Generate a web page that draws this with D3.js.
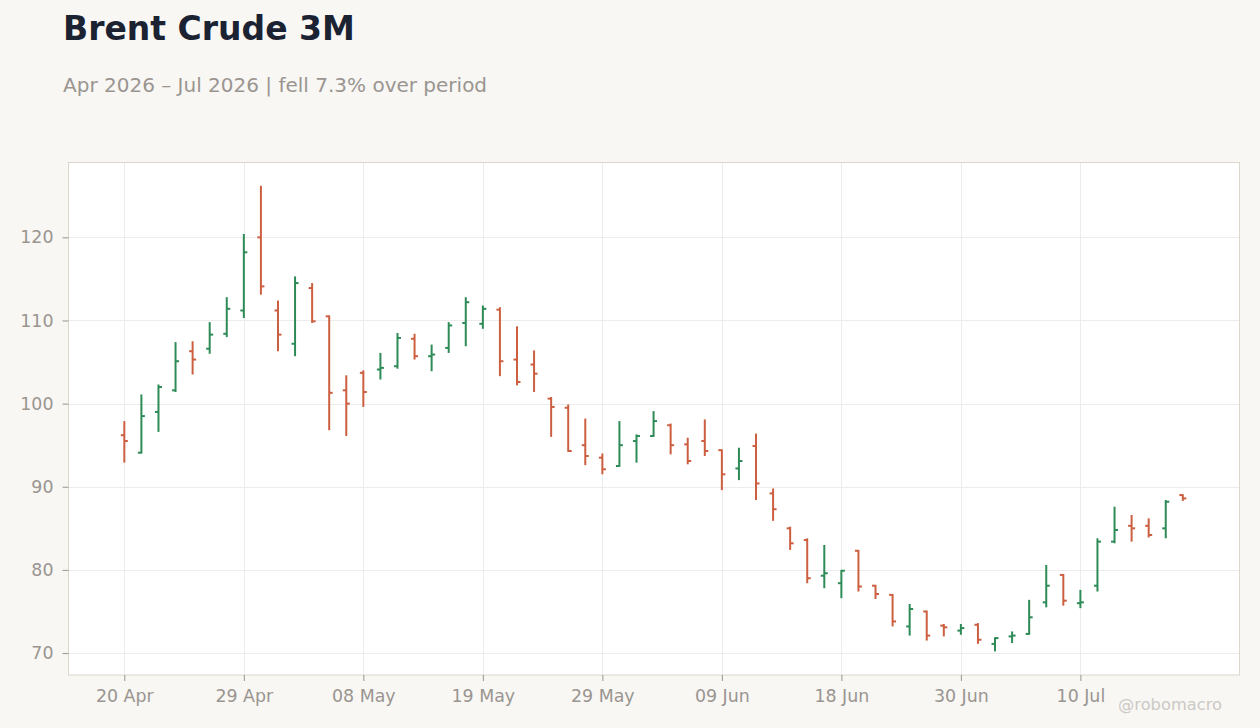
<!DOCTYPE html>
<html>
<head>
<meta charset="utf-8">
<script src="https://cdn.jsdelivr.net/npm/d3@7"></script>
<style>
	body { margin: 0; background: #f8f7f4; }
	svg { display: block; font-family: "DejaVu Sans", sans-serif; }
</style>
</head>
<body>
<svg id="svg" width="1260" height="728"></svg>
<script>
// trading days (weekends + US holidays skipped)
var dates = [
	"2026-04-20","2026-04-21","2026-04-22","2026-04-23","2026-04-24","2026-04-27","2026-04-28","2026-04-29","2026-04-30",
	"2026-05-01","2026-05-04","2026-05-05","2026-05-06","2026-05-07","2026-05-08","2026-05-11","2026-05-12","2026-05-13",
	"2026-05-14","2026-05-15","2026-05-18","2026-05-19","2026-05-20","2026-05-21","2026-05-22","2026-05-26","2026-05-27",
	"2026-05-28","2026-05-29","2026-06-01","2026-06-02","2026-06-03","2026-06-04","2026-06-05","2026-06-08","2026-06-09",
	"2026-06-10","2026-06-11","2026-06-12","2026-06-15","2026-06-16","2026-06-17","2026-06-18","2026-06-22","2026-06-23",
	"2026-06-24","2026-06-25","2026-06-26","2026-06-29","2026-06-30","2026-07-01","2026-07-02","2026-07-06","2026-07-07",
	"2026-07-08","2026-07-09","2026-07-10","2026-07-13","2026-07-14","2026-07-15","2026-07-16","2026-07-17","2026-07-20"
];
var opens = [96.2,94.1,99.0,101.6,106.3,106.6,108.4,111.2,120.0,111.2,107.2,113.9,110.5,101.6,103.7,104.1,104.5,107.8,
	105.7,106.7,109.7,109.6,111.3,105.3,104.7,100.6,99.5,95.0,93.5,92.5,95.5,96.1,97.4,95.1,95.5,94.4,
	92.2,94.9,89.2,85.0,83.6,79.3,78.4,82.3,78.1,77.0,73.2,75.0,73.3,72.7,73.4,71.1,72.0,72.3,
	76.1,79.4,76.0,78.1,83.4,85.3,85.3,85.0,89.0];
var highs = [97.9,101.1,102.3,107.4,107.5,109.8,112.8,120.4,126.2,112.4,115.3,114.5,110.6,103.4,104.0,106.1,108.5,108.4,
	107.1,109.8,112.8,111.8,111.6,109.3,106.4,100.8,99.9,98.2,94.0,97.9,96.3,99.1,97.6,95.9,98.1,94.5,
	94.7,96.4,89.8,85.2,83.8,83.0,80.0,82.4,78.2,77.1,75.9,75.1,73.5,73.5,73.6,71.9,72.6,76.4,
	80.6,79.5,77.6,83.8,87.6,86.6,86.2,88.4,89.1];
var lows = [92.9,94.0,96.6,101.4,103.5,106.0,108.0,110.3,113.1,106.3,105.7,109.7,96.8,96.1,99.6,102.9,104.2,105.3,
	103.9,106.1,106.9,109.0,103.3,102.2,101.4,96.0,94.2,92.6,91.5,92.4,92.9,96.0,93.9,92.7,93.7,89.6,
	90.8,88.4,85.9,82.4,78.4,77.8,76.6,77.4,76.5,73.2,72.1,71.5,72.0,72.2,71.1,70.2,71.2,72.2,
	75.5,75.7,75.4,77.4,83.2,83.4,83.9,83.8,88.3];
var closes = [95.5,98.5,102.0,105.1,105.3,108.3,111.4,118.2,114.1,108.3,114.5,109.9,101.3,100.0,101.4,104.3,107.9,105.7,
	105.9,109.4,112.2,111.4,105.1,102.6,103.6,99.6,94.3,93.7,92.1,95.0,96.1,97.9,95.0,93.1,94.3,91.5,
	93.1,90.4,87.3,83.2,79.0,79.6,79.9,78.0,77.1,73.8,75.3,72.1,73.1,73.0,71.6,71.8,72.1,74.3,
	78.1,76.3,76.1,83.4,84.8,85.0,84.2,88.2,88.6];
var yTicks = [70, 80, 90, 100, 110, 120];
var xTickEvery = 7;

var upColor = "#2e8b57";
var downColor = "#cc5f40";

var width = 1260;
var height = 728;
var plot = {left: 68.5, top: 162.5, right: 1239.5, bottom: 675};
var tickLen = 3.5;

draw();

function draw() {
	"use strict"

	var parse = d3.timeParse("%Y-%m-%d");
	var fmt = d3.timeFormat("%d %b");

	var data = dates.map(function(d, i) {
		return {date: parse(d), i: i, o: opens[i], h: highs[i], l: lows[i], c: closes[i]};
	});

	var svg = d3.select("#svg");

	svg.append("rect")
		.attr("width", width)
		.attr("height", height)
		.attr("fill", "#f8f7f4");

	// title + subtitle
	svg.append("text")
		.attr("x", 63)
		.attr("y", 40)
		.attr("font-size", 33)
		.attr("font-weight", "bold")
		.attr("fill", "#1b2333")
		.text("Brent Crude 3M");
	svg.append("text")
		.attr("x", 63)
		.attr("y", 92)
		.attr("font-size", 20)
		.attr("fill", "#9a9590")
		.text("Apr 2026 \u2013 Jul 2026 | fell 7.3% over period");

	// scales
	var x = d3.scaleLinear()
		.domain([-3.27, data.length - 1 + 3.32])
		.range([plot.left, plot.right]);
	var y = d3.scaleLinear()
		.domain([67.36, 129.0])
		.range([plot.bottom, plot.top]);

	var xTicks = data.filter(function(d) { return d.i % xTickEvery == 0; });

	// plot background
	svg.append("rect")
		.attr("x", plot.left)
		.attr("y", plot.top)
		.attr("width", plot.right - plot.left)
		.attr("height", plot.bottom - plot.top)
		.attr("fill", "#ffffff");

	// grid
	var grid = svg.append("g").attr("id", "grid");
	grid.selectAll(".vgrid").data(xTicks).enter()
		.append("line")
		.attr("class", "vgrid")
		.attr("x1", function(d) { return Math.round(x(d.i)) + 0.5; })
		.attr("x2", function(d) { return Math.round(x(d.i)) + 0.5; })
		.attr("y1", plot.top)
		.attr("y2", plot.bottom)
		.attr("stroke", "#ececec")
		.attr("stroke-width", 1);
	grid.selectAll(".hgrid").data(yTicks).enter()
		.append("line")
		.attr("class", "hgrid")
		.attr("x1", plot.left)
		.attr("x2", plot.right)
		.attr("y1", function(d) { return Math.round(y(d)) + 0.5; })
		.attr("y2", function(d) { return Math.round(y(d)) + 0.5; })
		.attr("stroke", "#ececec")
		.attr("stroke-width", 1);

	// frame
	svg.append("rect")
		.attr("x", plot.left)
		.attr("y", plot.top)
		.attr("width", plot.right - plot.left)
		.attr("height", plot.bottom - plot.top)
		.attr("fill", "none")
		.attr("stroke", "#ddd6cd")
		.attr("stroke-width", 1);

	// axes
	var xAxis = svg.append("g")
		.attr("transform", "translate(0," + plot.bottom + ")")
		.call(d3.axisBottom(x)
			.tickValues(xTicks.map(function(d) { return d.i; }))
			.tickFormat(function(i) { return fmt(data[i].date); })
			.tickSize(6)
			.tickPadding(9));
	var yAxis = svg.append("g")
		.attr("transform", "translate(" + plot.left + ",0)")
		.call(d3.axisLeft(y)
			.tickValues(yTicks)
			.tickSize(6)
			.tickPadding(9));
	[xAxis, yAxis].forEach(function(ax) {
		ax.select(".domain").remove();
		ax.selectAll(".tick line").attr("stroke", "#9a9590");
		ax.selectAll(".tick text")
			.attr("fill", "#9a9590")
			.attr("font-size", 17.4)
			.attr("font-family", "DejaVu Sans, sans-serif");
	});

	// OHLC bars
	var bars = svg.append("g").attr("id", "bars")
		.selectAll(".bar").data(data).enter()
		.append("g")
		.attr("class", "bar")
		.attr("stroke", function(d) { return d.c >= d.o ? upColor : downColor; })
		.attr("stroke-width", 2);
	bars.append("line")
		.attr("x1", function(d) { return x(d.i); })
		.attr("x2", function(d) { return x(d.i); })
		.attr("y1", function(d) { return y(d.h); })
		.attr("y2", function(d) { return y(d.l); });
	bars.append("line")
		.attr("x1", function(d) { return x(d.i) - tickLen; })
		.attr("x2", function(d) { return x(d.i); })
		.attr("y1", function(d) { return y(d.o); })
		.attr("y2", function(d) { return y(d.o); });
	bars.append("line")
		.attr("x1", function(d) { return x(d.i); })
		.attr("x2", function(d) { return x(d.i) + tickLen; })
		.attr("y1", function(d) { return y(d.c); })
		.attr("y2", function(d) { return y(d.c); });

	// watermark
	svg.append("text")
		.attr("x", 1222)
		.attr("y", 710)
		.attr("text-anchor", "end")
		.attr("font-size", 16.3)
		.attr("fill", "#cdc9c4")
		.text("@robomacro");
}
</script>
</body>
</html>
